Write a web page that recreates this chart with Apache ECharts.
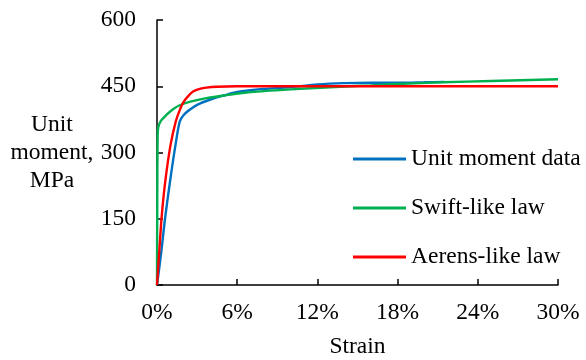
<!DOCTYPE html>
<html>
<head>
<meta charset="utf-8">
<script src="https://cdn.jsdelivr.net/npm/echarts@6/dist/echarts.min.js"></script>
<style>html,body{margin:0;padding:0;background:#fff}#c{width:586px;height:360px}</style>
</head>
<body>
<div id="c"></div>
<script>
// strain in %, unit moment in MPa
var xTicks = [0, 6, 12, 18, 24, 30];
var yTicks = [0, 150, 300, 450, 600];
var unitMomentData = [[0,0],[0.3,70],[0.6,150],[1.0,240],[1.4,320],[1.7,370],[2.0,385],[2.5,398],[3,408],[4,420],[5,429],[6,437],[7,441],[8,444],[10,448],[12,454],[14,457],[16,458],[18,458],[20,459],[21.5,460]];
var swiftLaw = [[0,0],[0.02,200],[0.05,340],[0.1,358],[0.3,372],[0.7,385],[1.2,398],[1.7,407],[2.5,415],[3.7,423],[5,429],[6.2,434],[8,439],[10,443],[13.7,449],[16,452],[18,455],[21.4,459],[25,462],[30,466]];
var aerensLaw = [[0,0],[0.2,90],[0.35,155],[0.6,230],[1.0,315],[1.4,370],[1.7,396],[2.0,415],[2.4,430],[2.7,438],[3.2,444],[3.7,447],[4.5,449],[6,450],[12,450],[30,450]];
var seriesNames = ['Unit moment data', 'Swift-like law', 'Aerens-like law'];
var colors = ['#0070C0', '#00B050', '#FF0000'];

var font = 'Liberation Serif';
var fs = 23.5;
var chart = echarts.init(document.getElementById('c'));
chart.setOption({
  animation: false,
  color: colors,
  textStyle: {fontFamily: font, color: '#000'},
  grid: {left: 157, right: 28, top: 20, bottom: 75, containLabel: false, outerBoundsMode: 'none'},
  legend: {
    orient: 'vertical', left: 348, top: 142,
    icon: 'rect', itemWidth: 53, itemHeight: 3, itemGap: 25,
    textStyle: {fontFamily: font, fontSize: fs, color: '#000'},
    data: seriesNames
  },
  xAxis: {
    type: 'value', min: xTicks[0], max: xTicks[xTicks.length-1], interval: 6,
    name: 'Strain', nameLocation: 'middle', nameGap: 50,
    nameTextStyle: {fontFamily: font, fontSize: fs, color: '#000'},
    axisLine: {lineStyle: {color: '#000', width: 1.5}},
    axisTick: {inside: true, length: 6, lineStyle: {color: '#000', width: 1.5}},
    axisLabel: {formatter: function(v){return v + '%';}, fontFamily: font, fontSize: fs, color: '#000', margin: 16},
    splitLine: {show: false}
  },
  yAxis: {
    type: 'value', min: yTicks[0], max: yTicks[yTicks.length-1], interval: 150,
    name: 'Unit\nmoment,\nMPa', nameLocation: 'middle', nameRotate: 0, nameGap: 105,
    nameTextStyle: {fontFamily: font, fontSize: fs, color: '#000', align: 'center', verticalAlign: 'middle', lineHeight: 28, padding: [6, 0, 0, 0]},
    axisLine: {show: true, lineStyle: {color: '#000', width: 1.5}},
    axisTick: {show: true, inside: true, length: 6, lineStyle: {color: '#000', width: 1.5}},
    axisLabel: {fontFamily: font, fontSize: fs, color: '#000', margin: 21},
    splitLine: {show: false}
  },
  series: [
    {name: seriesNames[0], type: 'line', data: unitMomentData, showSymbol: false, symbol: 'none', smooth: 0.3, lineStyle: {width: 2.4, color: colors[0]}},
    {name: seriesNames[1], type: 'line', data: swiftLaw, showSymbol: false, symbol: 'none', smooth: 0.3, lineStyle: {width: 2.4, color: colors[1]}},
    {name: seriesNames[2], type: 'line', data: aerensLaw, showSymbol: false, symbol: 'none', smooth: 0.3, lineStyle: {width: 2.4, color: colors[2]}}
  ]
});
</script>
</body>
</html>
